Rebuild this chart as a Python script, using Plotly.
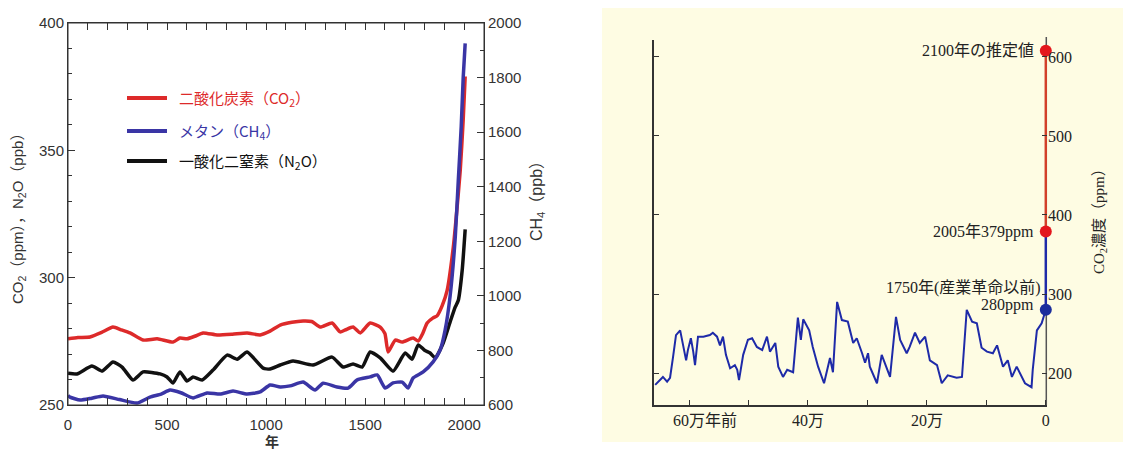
import plotly.graph_objects as go

# ---------------- data: left panel (last 2000 years) ----------------
co2_years = [0, 50, 111, 170, 227, 270, 313, 379, 450, 530, 565, 601, 640, 682, 753, 830, 904, 970,
             1020, 1071, 1130, 1187, 1230, 1273, 1333, 1374, 1400, 1439, 1475, 1525, 1576, 1600, 1616,
             1652, 1687, 1742, 1768, 1790, 1813, 1843, 1863, 1889, 1914, 1945, 1960, 1980, 1995, 2005]
co2_ppm = [276, 276.5, 276.7, 278.5, 280.6, 279.5, 278.3, 275.5, 276, 274.7, 276.3, 276, 277, 278.3,
           277.5, 277.8, 278.3, 277.5, 279, 281.4, 282.5, 283, 282.8, 280.6, 282.2, 278.7, 279.5, 280.6,
           278.3, 282.2, 280.6, 278, 270.8, 275.5, 274.7, 276.3, 275.1, 278, 282.2, 284.2, 285, 289,
           295, 312, 324, 342, 362, 379]

ch4_years = [0, 10, 61, 120, 177, 260, 348, 414, 470, 515, 570, 631, 702, 768, 833, 904, 970, 1020,
             1071, 1121, 1187, 1247, 1288, 1358, 1414, 1460, 1525, 1561, 1601, 1641, 1687, 1717, 1742,
             1793, 1843, 1879, 1904, 1929, 1955, 1970, 1985, 1995, 2005]
ch4_ppb = [635, 629, 618, 625, 633, 620, 607, 629, 640, 655, 645, 626, 644, 640, 651, 640, 648, 673,
           666, 670, 684, 655, 680, 666, 662, 692, 703, 710, 662, 681, 684, 662, 699, 721, 758, 802,
           875, 1000, 1216, 1420, 1620, 1800, 1925]

n2o_years = [0, 45, 121, 172, 227, 273, 328, 379, 465, 500, 530, 565, 601, 631, 677, 732, 803, 854,
             904, 985, 1020, 1071, 1136, 1237, 1333, 1389, 1439, 1485, 1525, 1576, 1641, 1702, 1737,
             1768, 1800, 1828, 1854, 1894, 1929, 1955, 1970, 1990, 2005]
n2o_ppb = [262.5, 262.2, 265.3, 263.3, 266.9, 264.9, 259.8, 263, 262.2, 261, 258.6, 263, 259.4, 261,
           259.8, 263.7, 269.6, 268, 270.8, 264.5, 264.1, 265.7, 267.3, 265.7, 268.8, 264.9, 266.1,
           264.9, 270.8, 268.5, 263.3, 270.4, 268, 273.6, 271.5, 270.4, 268.5, 274.3, 282.6, 288.5,
           291, 303, 319]

left_xticks = [0, 500, 1000, 1500, 2000]

# ---------------- data: right panel (650,000 years, ice core) ----------------
ice_kyr = [657, 649, 644, 637, 632, 627, 622, 615, 610, 605, 602, 597, 593, 590, 585, 576, 565, 560,
           553, 548, 543, 538, 531, 523, 519, 516, 509, 501, 494, 486, 477, 469, 464, 455, 450, 442,
           435, 425, 417, 412, 408, 398, 392, 383, 373, 363, 358, 351, 343, 333, 324, 318, 309, 304,
           299, 296, 284, 276, 262, 252, 245, 234, 229, 220, 212, 203, 195, 183, 175, 165, 150, 141,
           133, 124, 116, 108, 99, 89, 82, 72, 64, 57, 49, 35, 24, 22, 15, 7, 0]
ice_ppm = [185, 191, 195, 189, 194, 220, 248, 254, 235, 216, 229, 244, 227, 210, 246, 246, 248, 251,
           246, 235, 246, 223, 206, 210, 204, 191, 223, 242, 244, 233, 229, 246, 227, 238, 208, 195,
           204, 201, 270, 242, 268, 254, 233, 208, 187, 219, 201, 290, 267, 265, 238, 244, 225, 213,
           225, 208, 187, 223, 195, 271, 242, 225, 233, 251, 238, 246, 216, 210, 187, 197, 194, 195,
           280, 265, 263, 232, 227, 225, 235, 208, 216, 195, 208, 187, 182, 204, 254, 263, 280]

modern_kyr = [0, 0]
modern_ppm = [280, 379]
future_kyr = [0, 0]
future_ppm = [379, 608]

point_kyr = [0, 0, 0]
point_ppm = [280, 379, 608]
point_labels = ["1750年(産業革命以前)", "2005年379ppm", "2100年の推定値"]

right_xtickvals = [0, 100, 200, 300, 400, 500, 600]
right_xticktext = ["0", "", "20万", "", "40万", "", "\u3000\u300060万年前"]
right_ytickvals = [200, 300, 400, 500, 600]

# ---------------- styling ----------------
OFF = 8                      # page body margin of the html page
W, H = 1131 - OFF, 453 - OFF
RED = "#DD2A2A"
BLUE = "#3A35A5"
BLACK = "#111111"
ICE_BLUE = "#1E2AA8"
DOT_RED = "#E3161C"
DOT_BLUE = "#1B2D9C"
SANS = "Liberation Sans, Arial, Noto Sans CJK JP"
SERIF = "Liberation Serif, Noto Sans CJK JP"
CJK = "Noto Sans CJK JP"
AX = "#333333"


def pxx(x):
    return (x - OFF) / W


def pxy(y):
    return 1 - (y - OFF) / H


fig = go.Figure()

# left panel
fig.add_trace(go.Scatter(x=co2_years, y=co2_ppm, xaxis="x", yaxis="y", mode="lines",
                         line=dict(color=RED, width=3.5, shape="spline", smoothing=0.5)))
fig.add_trace(go.Scatter(x=n2o_years, y=n2o_ppb, xaxis="x", yaxis="y", mode="lines",
                         line=dict(color=BLACK, width=3.5, shape="spline", smoothing=0.5)))
fig.add_trace(go.Scatter(x=ch4_years, y=ch4_ppb, xaxis="x", yaxis="y2", mode="lines",
                         line=dict(color=BLUE, width=3.5, shape="spline", smoothing=0.5)))

# right panel
fig.add_trace(go.Scatter(x=ice_kyr, y=ice_ppm, xaxis="x3", yaxis="y3", mode="lines",
                         line=dict(color=ICE_BLUE, width=2)))
fig.add_trace(go.Scatter(x=modern_kyr, y=modern_ppm, xaxis="x3", yaxis="y4", mode="lines",
                         line=dict(color=ICE_BLUE, width=2.5)))
fig.add_trace(go.Scatter(x=future_kyr, y=future_ppm, xaxis="x3", yaxis="y4", mode="lines",
                         line=dict(color="#D2402A", width=2.5)))
fig.add_trace(go.Scatter(x=point_kyr, y=point_ppm, xaxis="x3", yaxis="y4", mode="markers",
                         cliponaxis=False,
                         marker=dict(size=12, color=[DOT_BLUE, DOT_RED, DOT_RED])))

tickfont_l = dict(family=SANS, size=15, color=AX)
tickfont_r = dict(family=SERIF, size=16, color="#222222")

fig.update_layout(
    width=W, height=H,
    margin=dict(l=0, r=0, t=0, b=0, autoexpand=False),
    paper_bgcolor="white",
    plot_bgcolor="rgba(0,0,0,0)",
    showlegend=False,
    xaxis=dict(domain=[pxx(68), pxx(484)], range=[0, 2100], anchor="y", automargin=False,
               tickvals=left_xticks, ticks="inside", ticklen=7, tickcolor=AX,
               ticklabelstandoff=6,
               minor=dict(dtick=100, ticks="inside", ticklen=4, tickcolor=AX),
               showline=True, linecolor=AX, linewidth=1, mirror="allticks",
               showgrid=False, zeroline=False, tickfont=tickfont_l),
    yaxis=dict(domain=[pxy(405), pxy(23)], range=[250, 400], anchor="x", automargin=False,
               dtick=50, ticks="inside", ticklen=7, tickcolor=AX,
               minor=dict(dtick=10, ticks="inside", ticklen=4, tickcolor=AX),
               showline=True, linecolor=AX, linewidth=1,
               showgrid=False, zeroline=False, tickfont=tickfont_l),
    yaxis2=dict(overlaying="y", side="right", anchor="x", range=[600, 2000], automargin=False,
                dtick=200, ticks="inside", ticklen=7, tickcolor=AX,
                minor=dict(dtick=100, ticks="inside", ticklen=4, tickcolor=AX),
                showline=True, linecolor=AX, linewidth=1,
                showgrid=False, zeroline=False, tickfont=tickfont_l),
    xaxis3=dict(domain=[pxx(654), pxx(1047)], range=[659, -2], anchor="y3", automargin=False,
                tickvals=right_xtickvals, ticktext=right_xticktext,
                ticks="inside", ticklen=5, tickcolor=AX,
                showline=True, linecolor=AX, linewidth=1.5,
                showgrid=False, zeroline=False, tickfont=tickfont_r),
    yaxis3=dict(domain=[pxy(405), pxy(40)], range=[159.5, 621.5], anchor="x3", automargin=False,
                tickvals=right_ytickvals, showticklabels=False,
                ticks="inside", ticklen=5, tickcolor=AX,
                showline=True, linecolor=AX, linewidth=1.5,
                showgrid=False, zeroline=False),
    yaxis4=dict(overlaying="y3", side="right", anchor="x3", range=[159.5, 621.5], automargin=False,
                tickvals=right_ytickvals, ticks="inside", ticklen=5, tickcolor=AX,
                showline=False, showticklabels=True,
                showgrid=False, zeroline=False, tickfont=tickfont_r),
)

# cream background of right panel
fig.add_shape(type="rect", xref="paper", yref="paper", x0=pxx(602), x1=1.0,
              y0=pxy(442), y1=pxy(7), fillcolor="#FEFCE3", line=dict(width=0), layer="below")
# right-hand axis line of the right panel (drawn under the data)
fig.add_shape(type="line", xref="paper", yref="paper", x0=pxx(1046.3), x1=pxx(1046.3),
              y0=pxy(405), y1=pxy(37), line=dict(color="#555555", width=1.5), layer="below")
# frame of left panel (top / right)
fig.add_shape(type="rect", xref="paper", yref="paper", x0=pxx(68), x1=pxx(484),
              y0=pxy(405), y1=pxy(23), line=dict(color=AX, width=1), layer="above")

# legend (manual)
legend_items = [("二酸化炭素（CO<sub>2</sub>）", RED, 98),
                ("メタン（CH<sub>4</sub>）", BLUE, 131),
                ("一酸化二窒素（N<sub>2</sub>O）", BLACK, 161)]
for text, col, yy in legend_items:
    fig.add_shape(type="line", xref="paper", yref="paper", x0=pxx(127), x1=pxx(167),
                  y0=pxy(yy), y1=pxy(yy), line=dict(color=col, width=4))
    fig.add_annotation(xref="paper", yref="paper", x=pxx(177), y=pxy(yy), xanchor="left",
                       yanchor="middle", text=text, showarrow=False,
                       font=dict(family=CJK, size=15, color=col))

# axis titles, left panel
fig.add_annotation(xref="paper", yref="paper", x=pxx(18), y=pxy(215), textangle=-90,
                   xanchor="center", yanchor="middle",
                   text="CO<sub>2</sub>（ppm），N<sub>2</sub>O（ppb）", showarrow=False,
                   font=dict(family=SANS, size=15, color=AX))
fig.add_annotation(xref="paper", yref="paper", x=pxx(537), y=pxy(197), textangle=-90,
                   xanchor="center", yanchor="middle",
                   text="CH<sub>4</sub>（ppb）", showarrow=False,
                   font=dict(family=SANS, size=16, color=AX))
fig.add_annotation(xref="paper", yref="paper", x=pxx(272), y=pxy(441),
                   xanchor="center", yanchor="middle",
                   text="<b>年</b>", showarrow=False,
                   font=dict(family=CJK, size=14, color=AX))

# right panel title
fig.add_annotation(xref="paper", yref="paper", x=pxx(1100), y=pxy(218), textangle=-90,
                   xanchor="center", yanchor="middle",
                   text="CO<sub>2</sub>濃度（ppm）", showarrow=False,
                   font=dict(family=SERIF, size=15, color="#222222"))

# right panel point labels
fig.add_annotation(xref="x3", yref="y3", x=point_kyr[2], y=point_ppm[2], xanchor="right",
                   yanchor="middle", xshift=-10, text=point_labels[2], showarrow=False,
                   font=dict(family=SERIF, size=16, color="#222222"))
fig.add_annotation(xref="x3", yref="y3", x=point_kyr[1], y=point_ppm[1], xanchor="right",
                   yanchor="middle", xshift=-10, text=point_labels[1], showarrow=False,
                   font=dict(family=SERIF, size=16, color="#222222"))
fig.add_annotation(xref="x3", yref="y3", x=point_kyr[0], y=point_ppm[0], xanchor="right",
                   yanchor="middle", xshift=-3, yshift=22, text=point_labels[0], showarrow=False,
                   font=dict(family=SERIF, size=16, color="#222222"))
fig.add_annotation(xref="x3", yref="y3", x=point_kyr[0], y=point_ppm[0], xanchor="right",
                   yanchor="middle", xshift=-10, yshift=5, text="280ppm", showarrow=False,
                   font=dict(family=SERIF, size=16, color="#222222"))

fig.write_html("out.html")
